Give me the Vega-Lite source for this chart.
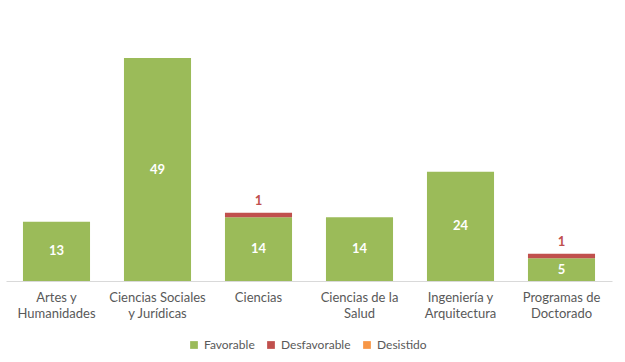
{
  "$schema": "https://vega.github.io/schema/vega-lite/v6.json",
  "autosize": {"type": "none"},
  "width": 606,
  "height": 273,
  "padding": {"left": 6, "top": 8, "right": 13, "bottom": 81},
  "background": "white",
  "config": {
    "view": {"stroke": null},
    "font": "Lato"
  },
  "data": {
    "values": [
      {"cat": "Artes y|Humanidades", "serie": "Favorable", "value": 13},
      {"cat": "Artes y|Humanidades", "serie": "Desfavorable", "value": 0},
      {"cat": "Artes y|Humanidades", "serie": "Desistido", "value": 0},
      {"cat": "Ciencias Sociales|y Jurídicas", "serie": "Favorable", "value": 49},
      {"cat": "Ciencias Sociales|y Jurídicas", "serie": "Desfavorable", "value": 0},
      {"cat": "Ciencias Sociales|y Jurídicas", "serie": "Desistido", "value": 0},
      {"cat": "Ciencias", "serie": "Favorable", "value": 14},
      {"cat": "Ciencias", "serie": "Desfavorable", "value": 1},
      {"cat": "Ciencias", "serie": "Desistido", "value": 0},
      {"cat": "Ciencias de la|Salud", "serie": "Favorable", "value": 14},
      {"cat": "Ciencias de la|Salud", "serie": "Desfavorable", "value": 0},
      {"cat": "Ciencias de la|Salud", "serie": "Desistido", "value": 0},
      {"cat": "Ingeniería y|Arquitectura", "serie": "Favorable", "value": 24},
      {"cat": "Ingeniería y|Arquitectura", "serie": "Desfavorable", "value": 0},
      {"cat": "Ingeniería y|Arquitectura", "serie": "Desistido", "value": 0},
      {"cat": "Programas de|Doctorado", "serie": "Favorable", "value": 5},
      {"cat": "Programas de|Doctorado", "serie": "Desfavorable", "value": 1},
      {"cat": "Programas de|Doctorado", "serie": "Desistido", "value": 0}
    ]
  },
  "encoding": {
    "x": {
      "field": "cat",
      "type": "nominal",
      "sort": null,
      "scale": {"paddingInner": 0.336, "paddingOuter": 0.168},
      "axis": {
        "title": null,
        "labelAngle": 0,
        "labelExpr": "split(datum.value, '|')",
        "labelFontSize": 13,
        "labelColor": "#595959",
        "labelLineHeight": 16,
        "labelPadding": 10,
        "ticks": false,
        "domainColor": "#D9D9D9",
        "labelFont": "Lato"
      }
    }
  },
  "layer": [
    {
      "mark": {"type": "bar"},
      "encoding": {
        "y": {
          "field": "value",
          "type": "quantitative",
          "stack": "zero",
          "scale": {"domain": [0, 60], "nice": false},
          "axis": null
        },
        "color": {
          "field": "serie",
          "type": "nominal",
          "sort": ["Favorable", "Desfavorable", "Desistido"],
          "scale": {
            "domain": ["Favorable", "Desfavorable", "Desistido"],
            "range": ["#9BBB59", "#C0504D", "#F79646"]
          },
          "legend": {
            "title": null,
            "orient": "none",
            "direction": "horizontal",
            "legendX": 182,
            "legendY": 331,
            "symbolType": "square",
            "symbolSize": 60,
            "symbolStrokeWidth": 0,
            "labelFontSize": 12,
            "labelColor": "#595959",
            "columnPadding": 10,
            "labelOffset": 4
          }
        }
      }
    },
    {
      "transform": [
        {"filter": "datum.serie === 'Favorable'"},
        {"calculate": "datum.value / 2", "as": "mid"}
      ],
      "mark": {"type": "text", "color": "white", "fontWeight": "bold", "fontSize": 13, "baseline": "middle"},
      "encoding": {
        "y": {"field": "mid", "type": "quantitative"},
        "text": {"field": "value", "type": "quantitative"}
      }
    },
    {
      "transform": [
        {"joinaggregate": [{"op": "sum", "field": "value", "as": "total"}], "groupby": ["cat"]},
        {"filter": "datum.serie === 'Desfavorable' && datum.value > 0"}
      ],
      "mark": {"type": "text", "color": "#C0504D", "fontWeight": "bold", "fontSize": 13, "baseline": "middle", "dy": -12},
      "encoding": {
        "y": {"field": "total", "type": "quantitative"},
        "text": {"field": "value", "type": "quantitative"}
      }
    }
  ]
}
